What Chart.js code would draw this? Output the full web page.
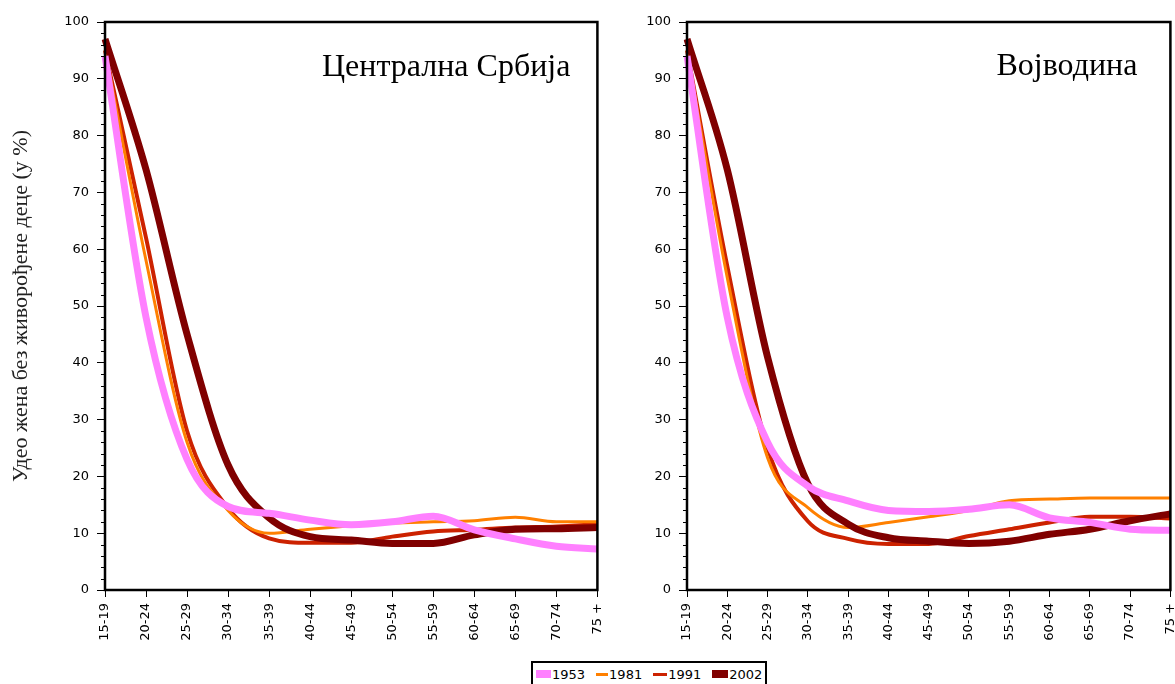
<!DOCTYPE html>
<html>
<head>
<meta charset="utf-8">
<script src="https://cdn.jsdelivr.net/npm/chart.js@4.4.0/dist/chart.umd.min.js"></script>
<style>
  body { margin: 0; width: 1175px; height: 684px; overflow: hidden; background: #fff; position: relative; }
  canvas { position: absolute; top: 0; }
  #left { left: 0; }
  #right { left: 600px; }
  #legend { position: absolute; left: 531px; top: 661px; height: 22px; border: 2px solid #000; background: #fff;
    display: flex; align-items: center; padding: 0 3px 0 3px; font: 13px "DejaVu Sans", sans-serif; color: #000; }
  #legend .item { display: flex; align-items: center; margin-right: 11px; }
  #legend .item:last-child { margin-right: 0; }
  #legend .mk { display: inline-block; margin-right: 1px; }
</style>
</head>
<body>
<canvas id="left" width="619" height="684"></canvas>
<canvas id="right" width="592" height="684"></canvas>
<div id="legend"></div>
<script>
var ageGroups = ['15-19', '20-24', '25-29', '30-34', '35-39', '40-44', '45-49', '50-54', '55-59', '60-64', '65-69', '70-74', '75 +'];
var years = ['1953', '1981', '1991', '2002'];
var yearColors = ['#ff80ff', '#ff8000', '#cc2200', '#800000'];
var yearWidths = [7, 3, 4, 7];
var yearOrder = [0, 2, 3, 1];

// Централна Србија
var srb1953 = [94, 48, 23, 14.7, 13.5, 12.3, 11.5, 12, 13, 10.6, 9, 7.7, 7.2];
var srb1981 = [95, 58, 26, 14, 10, 10.7, 11.3, 11.8, 12, 12.2, 12.8, 12, 12];
var srb1991 = [95, 62, 28, 14.4, 9.1, 8.3, 8.3, 9.4, 10.3, 10.6, 11, 11.2, 11.6];
var srb2002 = [97, 74, 45, 22, 12.7, 9.4, 8.8, 8.2, 8.2, 9.7, 10.7, 10.8, 11];

// Војводина
var voj1953 = [94, 48, 26, 18.3, 15.7, 14, 13.8, 14.2, 15, 12.7, 11.9, 10.7, 10.5];
var voj1981 = [95, 55, 23.3, 14.5, 11, 11.9, 12.9, 14, 15.7, 16, 16.2, 16.2, 16.2];
var voj1991 = [95, 57, 25, 12.1, 9, 8.1, 8.1, 9.5, 10.7, 11.9, 12.9, 12.9, 12.6];
var voj2002 = [97, 74, 41, 18.7, 11.6, 9.2, 8.6, 8.2, 8.6, 9.8, 10.7, 12.2, 13.4];

var yTitle = 'Удео жена без живорођене деце (у %)';

function makeDatasets(series) {
  return series.map(function(d, i) {
    return {
      label: years[i],
      data: d,
      borderColor: yearColors[i],
      backgroundColor: yearColors[i],
      borderWidth: yearWidths[i],
      pointRadius: 0,
      cubicInterpolationMode: 'monotone',
      order: yearOrder[i],
      fill: false
    };
  });
}

// рам, ситне подеоке и наслов области
var panelPlugin = {
  id: 'panel',
  afterDraw: function(chart) {
    var ctx = chart.ctx;
    var a = chart.chartArea;
    var y = chart.scales.y;
    var opt = chart.options.plugins.panel;
    ctx.save();
    ctx.strokeStyle = '#000';
    ctx.lineWidth = 1;
    for (var v = 0; v <= 100; v += 2) {
      if (v % 10 === 0) continue;
      var py = Math.round(y.getPixelForValue(v)) + 0.5;
      ctx.beginPath();
      ctx.moveTo(a.left - 4, py);
      ctx.lineTo(a.left, py);
      ctx.stroke();
    }
    ctx.lineWidth = 2.5;
    ctx.strokeRect(a.left, a.top, a.right - a.left, a.bottom - a.top);
    ctx.fillStyle = '#000';
    ctx.font = '32px "Liberation Serif", serif';
    ctx.textAlign = 'right';
    ctx.textBaseline = 'alphabetic';
    ctx.fillText(opt.text, a.right - opt.titleRight, a.top + opt.titleBase);
    ctx.restore();
  }
};

function makeChart(id, series, name, yWidth, showTitle, titleRight, titleBase) {
  return new Chart(document.getElementById(id), {
    type: 'line',
    data: { labels: ageGroups, datasets: makeDatasets(series) },
    options: {
      responsive: false,
      animation: false,
      layout: { padding: { top: 22, right: 15, bottom: 0, left: 0 } },
      plugins: {
        legend: { display: false },
        tooltip: { enabled: false },
        panel: { text: name, titleRight: titleRight, titleBase: titleBase }
      },
      scales: {
        x: {
          offset: false,
          border: { display: false },
          grid: { drawOnChartArea: false, drawTicks: true, tickLength: 7, color: '#000', tickWidth: 1 },
          ticks: { autoSkip: false, minRotation: 90, maxRotation: 90, padding: 6, color: '#000',
            font: { family: 'DejaVu Sans', size: 13 } },
          afterFit: function(s) { s.height = 94; }
        },
        y: {
          min: 0, max: 100,
          border: { display: false },
          grid: { drawOnChartArea: false, drawTicks: true, tickLength: 8, color: '#000', tickWidth: 1 },
          ticks: { stepSize: 10, padding: 8, color: '#000', font: { family: 'DejaVu Sans', size: 13 } },
          title: { display: showTitle, text: yTitle, color: '#222',
            font: { family: 'Liberation Serif', size: 22 }, padding: { top: 8, bottom: 0 } },
          afterFit: function(s) { s.width = yWidth; }
        }
      }
    },
    plugins: [panelPlugin]
  });
}

makeChart('left', [srb1953, srb1981, srb1991, srb2002], 'Централна Србија', 105, true, 27, 54);
makeChart('right', [voj1953, voj1981, voj1991, voj2002], 'Војводина', 87, false, 33, 53);

var legendWidths = [15, 12, 14, 16];
var legendHeights = [8, 3, 3, 8];
var lg = document.getElementById('legend');
years.forEach(function(yr, i) {
  var it = document.createElement('span');
  it.className = 'item';
  var mk = document.createElement('span');
  mk.className = 'mk';
  mk.style.background = yearColors[i];
  mk.style.width = legendWidths[i] + 'px';
  mk.style.height = legendHeights[i] + 'px';
  it.appendChild(mk);
  it.appendChild(document.createTextNode(yr));
  lg.appendChild(it);
});
</script>
</body>
</html>
